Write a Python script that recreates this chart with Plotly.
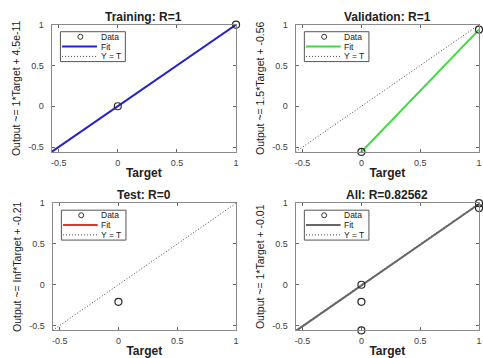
import plotly.graph_objects as go

# ---------------- data ----------------
panel_titles = ["Training: R=1", "Validation: R=1", "Test: R=0", "All: R=0.82562"]
ylabels = ["Output ~= 1*Target + 4.5e-11", "Output ~= 1.5*Target + -0.56",
           "Output ~= Inf*Target + -0.21", "Output ~= 1*Target + -0.01"]

train_target = [0, 1]
train_output = [0, 1]
val_target = [0, 1]
val_output = [-0.56, 0.94]
test_target = [0]
test_output = [-0.21]
all_target = [0, 1, 0, 1, 0]
all_output = [0, 1, -0.56, 0.94, -0.21]

fit_slope = [1.0, 1.5, None, 1.0]      # Test fit is Inf -> not drawn
fit_intercept = [4.5e-11, -0.56, -0.21, -0.01]
fit_colors = ["#2323cc", "#3ddc3d", "#e03030", "#666666"]

tick_vals = [-0.5, 0, 0.5, 1]
tick_text = ["-0.5", "0", "0.5", "1"]
legend_labels = ["Data", "Fit", "Y = T"]
axis_range = [-0.56, 1.0]

targets = [train_target, val_target, test_target, all_target]
outputs = [train_output, val_output, test_output, all_output]

# ---------------- layout geometry ----------------
W, H = 483, 358
xdoms = [[51 / W, 237 / W], [297 / W, 482 / W], [52 / W, 237 / W], [297 / W, 482 / W]]
ydoms = [[1 - 149 / H, 1 - 20 / H], [1 - 149 / H, 1 - 20 / H],
         [1 - 330 / H, 1 - 201 / H], [1 - 330 / H, 1 - 201 / H]]

fig = go.Figure()
shapes = []
annotations = []

sans = "Liberation Sans, Arial, sans-serif"
narrow = "Liberation Sans Narrow, Arial Narrow, Liberation Sans, Arial, sans-serif"
tickfont = dict(family=sans, size=9, color="#404040")

for i in range(4):
    sfx = "" if i == 0 else str(i + 1)
    xa, ya = "x" + sfx, "y" + sfx
    # Y = T dotted line
    fig.add_trace(go.Scatter(x=axis_range, y=axis_range, xaxis=xa, yaxis=ya, mode="lines",
                             line=dict(color="#444444", width=1, dash="1px,2px"),
                             showlegend=False, hoverinfo="skip"))
    # Fit line
    if fit_slope[i] is not None:
        fy = [fit_slope[i] * v + fit_intercept[i] for v in axis_range]
        fig.add_trace(go.Scatter(x=axis_range, y=fy, xaxis=xa, yaxis=ya, mode="lines",
                                 line=dict(color=fit_colors[i], width=2),
                                 showlegend=False))
    # Data
    fig.add_trace(go.Scatter(x=targets[i], y=outputs[i], xaxis=xa, yaxis=ya, mode="markers",
                             marker=dict(symbol="circle-open", size=7,
                                         color="#2a2a2a", line=dict(width=1.2)),
                             showlegend=False, cliponaxis=False))

    axcommon = dict(range=axis_range, tickvals=tick_vals, ticktext=tick_text,
                    ticks="inside", ticklen=3, tickcolor="#666666",
                    showline=True, linecolor="#8a8a8a", linewidth=1, mirror="ticks",
                    showgrid=False, zeroline=False, tickfont=tickfont)
    fig.update_layout({
        "xaxis" + sfx: dict(axcommon, domain=xdoms[i], anchor=ya, ticklabelstandoff=2,
                            title=dict(text="<b>Target</b>", standoff=1,
                                       font=dict(family=sans, size=12, color="#222222"))),
        "yaxis" + sfx: dict(axcommon, domain=ydoms[i], anchor=xa, ticklabelstandoff=5,
                            title=dict(text=ylabels[i], standoff=5,
                                       font=dict(family=narrow, size=10.5, color="#1a1a1a"))),
    })
    xr, yr = xa + " domain", ya + " domain"
    # panel title
    annotations.append(dict(text="<b>" + panel_titles[i] + "</b>", xref=xr, yref=yr,
                            x=0.5, y=1, xanchor="center", yanchor="bottom", yshift=-1,
                            showarrow=False,
                            font=dict(family=sans, size=12, color="#222222")))
    # legend box (MATLAB-style)
    bx0, bx1, by0, by1 = 0.048, 0.40, 0.71, 0.945
    shapes.append(dict(type="rect", xref=xr, yref=yr, x0=bx0, x1=bx1, y0=by0, y1=by1,
                       line=dict(color="#555555", width=1), fillcolor="white", layer="above"))
    rows = [0.905, 0.828, 0.751]
    # Data sample
    shapes.append(dict(type="circle", xref=xr, yref=yr, xsizemode="pixel", ysizemode="pixel",
                       xanchor=0.156, yanchor=rows[0], x0=-2.5, x1=2.5, y0=-2.5, y1=2.5,
                       line=dict(color="#333333", width=1), layer="above"))
    # Fit sample
    shapes.append(dict(type="line", xref=xr, yref=yr, x0=0.057, x1=0.246, y0=rows[1], y1=rows[1],
                       line=dict(color=fit_colors[i], width=2), layer="above"))
    # Y = T sample
    shapes.append(dict(type="line", xref=xr, yref=yr, x0=0.057, x1=0.246, y0=rows[2], y1=rows[2],
                       line=dict(color="#444444", width=1, dash="1px,2px"), layer="above"))
    for lbl, ry in zip(legend_labels, rows):
        annotations.append(dict(text=lbl, xref=xr, yref=yr, x=0.255, y=ry, xanchor="left",
                                yanchor="middle", showarrow=False,
                                font=dict(family=sans, size=8.5, color="#222222")))

fig.update_layout(width=W, height=H, margin=dict(l=0, r=0, t=0, b=0),
                  paper_bgcolor="white", plot_bgcolor="white", showlegend=False,
                  shapes=shapes, annotations=annotations)

fig.write_html("out.html", config={"displayModeBar": False},
               post_script="document.body.style.margin='0';document.body.style.overflow='hidden';")
